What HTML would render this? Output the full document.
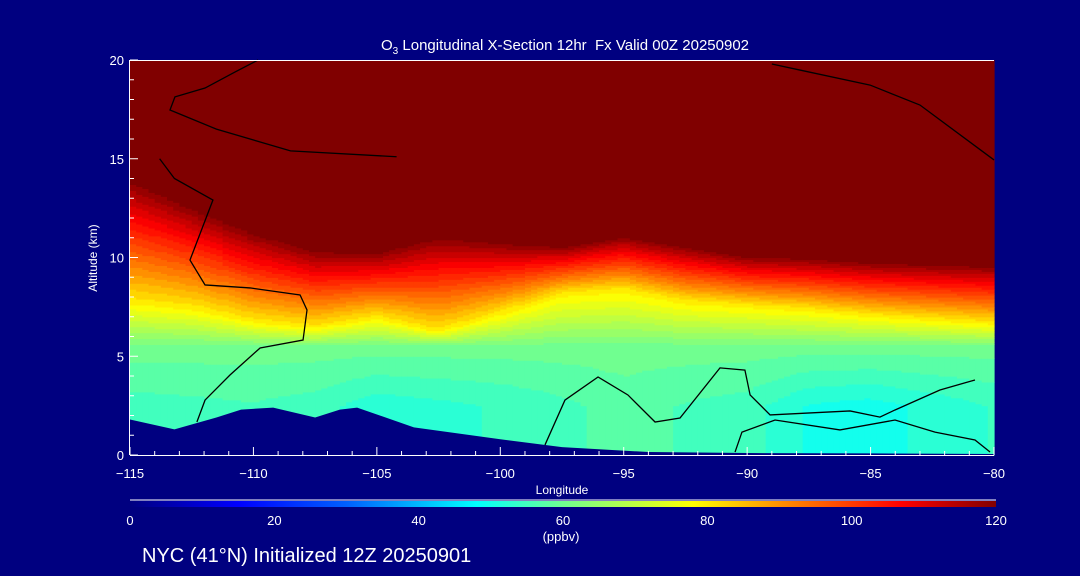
<!DOCTYPE html>
<html><head><meta charset="utf-8"><style>
html,body{margin:0;padding:0;background:#000080;width:1080px;height:576px;overflow:hidden}
svg{display:block}
text{font-family:"Liberation Sans","DejaVu Sans",sans-serif;fill:#fff}
</style></head><body>
<svg id="chart" width="1080" height="576" viewBox="0 0 1080 576">
<defs>
<linearGradient id="cbgrad" x1="0" x2="1" y1="0" y2="0">
<stop offset="0" stop-color="#000080"/><stop offset="0.125" stop-color="#0000ff"/>
<stop offset="0.25" stop-color="#0060ff"/><stop offset="0.4" stop-color="#00ffff"/>
<stop offset="0.5" stop-color="#70ff90"/><stop offset="0.583" stop-color="#c0ff40"/>
<stop offset="0.65" stop-color="#ffff00"/><stop offset="0.75" stop-color="#ff9000"/>
<stop offset="0.89" stop-color="#ff0000"/><stop offset="1" stop-color="#800000"/>
</linearGradient>
</defs>
<g id="field"></g>
<path id="terrain" fill="#000080"/>
<g id="contours"></g>
<g id="axes"></g>
<text x="565" y="50" text-anchor="middle" font-size="15" xml:space="preserve">O<tspan font-size="10" dy="4">3</tspan><tspan dy="-4"> Longitudinal X-Section 12hr  Fx Valid 00Z 20250902</tspan></text>
<text x="97" y="258" text-anchor="middle" font-size="12" transform="rotate(-90 97 258)">Altitude (km)</text>
<text x="562" y="494" text-anchor="middle" font-size="12">Longitude</text>
<line x1="130" y1="500" x2="996" y2="500" stroke="#fff" stroke-width="1"/>
<rect x="130" y="501" width="866" height="6" fill="url(#cbgrad)"/>
<g id="cbticks"></g>
<text x="561" y="541" text-anchor="middle" font-size="13">(ppbv)</text>
<text x="142" y="562" font-size="20">NYC (41°N) Initialized 12Z 20250901</text>
</svg>
<script>
// data
const lons = [-115,-112.5,-110,-107.5,-105,-102.5,-100,-97.5,-95,-92.5,-90,-87.5,-85,-82.5,-80];
const tropHeight = [14.0,12.6,11.3,10.4,10.3,11.1,10.8,10.6,11.1,10.6,10.1,10.0,9.8,9.7,9.6];
const yellowHeight = [7.8,7.5,6.8,6.5,7.0,6.3,7.2,8.2,8.4,7.8,7.6,7.4,7.1,6.9,6.7];
const lowValue = [55,55.5,56,55,52,53,54,55.5,57.5,56,55,51,50,52,54];
const terrainLons = [-115,-113.2,-111.5,-110.5,-109.2,-107.5,-106.5,-105.8,-103.5,-100,-97.5,-94,-90,-85,-80];
const terrainHeight = [1.8,1.3,1.9,2.3,2.4,1.9,2.3,2.4,1.4,0.8,0.4,0.15,0.1,0.08,0.05];
const contourALon = [-98.19,-97.38,-96.04,-94.83,-93.73,-92.72,-91.10,-90.09,-89.88,-89.07,-85.83,-84.62,-84.01,-82.19,-80.77];
const contourAAlt = [0.51,2.78,3.95,3.04,1.67,1.87,4.41,4.30,3.04,2.03,2.23,1.92,2.28,3.29,3.80];
const contourBLon = [-90.49,-90.21,-88.87,-86.24,-84.01,-82.39,-80.77,-80.16];
const contourBAlt = [0.15,1.16,1.77,1.27,1.77,1.16,0.76,0.15];
const contourCLon = [-113.8,-113.2,-111.64,-112.57,-111.96,-110.14,-108.11,-107.83,-107.99,-109.73,-110.95,-111.96,-112.29];
const contourCAlt = [15.0,14.0,12.91,9.87,8.61,8.46,8.10,7.34,5.82,5.42,4.05,2.78,1.67];
const contourDLon = [-109.81,-110.75,-111.96,-113.18,-113.38,-111.5,-108.5,-104.2];
const contourDAlt = [20,19.39,18.58,18.13,17.47,16.5,15.4,15.1];
const contourELon = [-89,-87.86,-85.02,-83.0,-80];
const contourEAlt = [19.8,19.49,18.73,17.72,14.94];
const xTicks = [-115,-110,-105,-100,-95,-90,-85,-80];
const yTicks = [0,5,10,15,20];
const cbTicks = [0,20,40,60,80,100,120];

const NS='http://www.w3.org/2000/svg';
const X0=130,X1=994,Y0=455,Y1=60;
const xs=l=>X0+(l+115)/35*(X1-X0);
const ys=z=>Y0-z/20*(Y0-Y1);
function interp(arrX,arrY,x){
  if(x<=arrX[0])return arrY[0];
  for(let i=1;i<arrX.length;i++){if(x<=arrX[i]){const t=(x-arrX[i-1])/(arrX[i]-arrX[i-1]);return arrY[i-1]+t*(arrY[i]-arrY[i-1]);}}
  return arrY[arrY.length-1];
}
const cmapV=[0,15,30,48,60,70,78,90,107,120];
const cmapC=[[0,0,128],[0,0,255],[0,96,255],[0,255,255],[112,255,144],[192,255,64],[255,255,0],[255,144,0],[255,0,0],[128,0,0]];
function color(v){
  v=Math.max(0,Math.min(120,v));
  for(let i=1;i<cmapV.length;i++){if(v<=cmapV[i]){const t=(v-cmapV[i-1])/(cmapV[i]-cmapV[i-1]);const a=cmapC[i-1],b=cmapC[i];return 'rgb('+a.map((c,k)=>Math.round(c+t*(b[k]-c))).join(',')+')';}}
  return 'rgb(128,0,0)';
}
function value(lon,z){
  const ht=interp(lons,tropHeight,lon),hy=interp(lons,yellowHeight,lon),lv=interp(lons,lowValue,lon);
  return interp([0,2.5,5.5,hy,ht,30],[lv,lv,60,80,120,120],z);
}
const field=document.getElementById('field');
const dl=0.25,dz=0.1;
for(let lon=-115;lon<-80-1e-9;lon+=dl){
  let start=0,prev=null;
  for(let k=0;k<=200;k++){
    const z=k*dz;
    const q=k<200?Math.round(value(lon+dl/2,z+dz/2)/2.5)*2.5:null;
    if(q!==prev){
      if(prev!==null){
        const r=document.createElementNS(NS,'rect');
        
        
        r.setAttribute('x',xs(lon));r.setAttribute('width',xs(lon+dl)-xs(lon)+0.6);
        r.setAttribute('y',ys(z));r.setAttribute('height',ys(start)-ys(z)+0.6);
        r.setAttribute('fill',color(prev));field.appendChild(r);
      }
      start=z;prev=q;
    }
  }
}
let d='M'+xs(-115)+','+Y0;
terrainLons.forEach((l,i)=>{d+=' L'+xs(l)+','+ys(terrainHeight[i]);});
d+=' L'+xs(-80)+','+Y0+' Z';
document.getElementById('terrain').setAttribute('d',d);

const cg=document.getElementById('contours');
[[contourALon,contourAAlt],[contourBLon,contourBAlt],[contourCLon,contourCAlt],[contourDLon,contourDAlt],[contourELon,contourEAlt]].forEach(([lo,al])=>{
  const p=document.createElementNS(NS,'polyline');
  
  
  p.setAttribute('points',lo.map((l,i)=>xs(l)+','+ys(al[i])).join(' '));
  p.setAttribute('fill','none');p.setAttribute('stroke','#000');p.setAttribute('stroke-width','1.3');
  cg.appendChild(p);
});

const axes=document.getElementById('axes');
function line(x1,y1,x2,y2,name){const l=document.createElementNS(NS,'line');


l.setAttribute('x1',x1);l.setAttribute('y1',y1);l.setAttribute('x2',x2);l.setAttribute('y2',y2);l.setAttribute('stroke','#fff');l.setAttribute('stroke-width','1');axes.appendChild(l);}
function txt(x,y,s,anchor,size,parent,name){const t=document.createElementNS(NS,'text');


t.setAttribute('x',x);t.setAttribute('y',y);t.setAttribute('text-anchor',anchor);t.setAttribute('font-size',size);t.textContent=s;parent.appendChild(t);}
line(X0,Y1+0.5,X1,Y1+0.5,'plot-top-border');
line(X0-0.5,Y1,X0-0.5,Y0,'y-axis-line');
line(X0,Y0+0.5,X1,Y0+0.5,'x-axis-line');
for(let l=-115;l<=-80;l++){line(xs(l),Y0,xs(l),Y0-(l%5===0?8:4),'x-tick');}
for(let z=0;z<=20;z++){line(X0,ys(z),X0+(z%5===0?8:4),ys(z),'y-tick');}
xTicks.forEach(l=>txt(xs(l),478,String(l).replace('-','\u2212'),'middle',13,axes,'x-tick-label'));
yTicks.forEach(z=>txt(124,ys(z)+5,String(z),'end',13,axes,'y-tick-label'));
const cb=document.getElementById('cbticks');
cbTicks.forEach(v=>txt(130+v/120*866,525,String(v),'middle',13,cb,'colorbar-tick-label'));
</script>
</body></html>
